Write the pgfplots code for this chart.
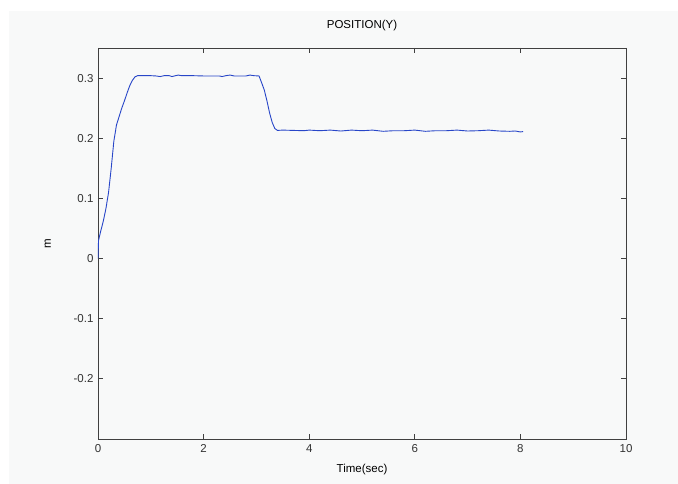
\documentclass[border=0pt]{standalone}
\usepackage{pgfplots}
\pgfplotsset{compat=1.18}
\usepackage{fontspec}
\setmainfont{Liberation Sans}
\definecolor{bgc}{RGB}{248,249,249}
\definecolor{linec}{RGB}{40,70,200}
\begin{document}
\begin{tikzpicture}
\useasboundingbox (0pt,0pt) rectangle (678pt,484pt);
\path[fill=white] (0pt,0pt) rectangle (678pt,484pt);
\path[fill=bgc] (9pt,0pt) rectangle (678pt,473pt);
\begin{axis}[
  at={(98pt,45pt)}, anchor=south west,
  scale only axis, width=528pt, height=391pt,
  xmin=0, xmax=10, ymin=-0.3, ymax=0.35,
  xtick={0,2,4,6,8,10}, xticklabels={0,2,4,6,8,10},
  ytick={-0.2,-0.1,0,0.1,0.2,0.3}, yticklabels={-0.2,-0.1,0,0.1,0.2,0.3},
  tick align=inside, major tick length=5pt,
  xtick pos=both, ytick pos=both,
  axis line style={black!75, line width=0.8pt},
  every tick/.style={black!75, line width=0.8pt},
  tick label style={font=\fontsize{11.5}{13}\selectfont, text=black!80},
  yticklabel style={xshift=-1pt},
  xticklabel style={yshift=-2pt},
  axis background/.style={fill=bgc},
  title={POSITION(Y)},
  title style={font=\fontsize{11.5}{13}\selectfont, at={(axis description cs:0.5,1.043)}, anchor=center},
  xlabel={Time(sec)},
  xlabel style={font=\fontsize{11.5}{13}\selectfont, at={(axis description cs:0.5,-0.079)}, anchor=center},
  ylabel={m},
  ylabel style={font=\fontsize{11.5}{13}\selectfont, at={(axis description cs:-0.095,0.5)}, anchor=center},
]
\addplot[linec, line width=0.9pt] coordinates {
(0,0) (0.01,0.03) (0.05,0.045) (0.1,0.062) (0.15,0.083) (0.2,0.11) (0.25,0.15) (0.3,0.195) (0.35,0.222) (0.4,0.236) (0.45,0.25) (0.5,0.262) (0.55,0.275) (0.6,0.287) (0.65,0.296) (0.7,0.302) (0.75,0.304) (0.8,0.304)
(0.9,0.304) (1.0,0.304) (1.1,0.3035) (1.18,0.3025) (1.25,0.304) (1.35,0.304) (1.4,0.3025) (1.47,0.304) (1.52,0.305) (1.58,0.304) (1.8,0.304) (2.0,0.3035) (2.3,0.3035) (2.35,0.3025) (2.42,0.304) (2.5,0.305) (2.58,0.3035) (2.8,0.3035) (2.88,0.305) (2.95,0.304) (3.05,0.3035)
(3.1,0.292) (3.15,0.28) (3.2,0.262) (3.25,0.242) (3.3,0.226) (3.35,0.216) (3.4,0.213) (3.5,0.2135) (3.7,0.213) (3.9,0.2125) (4.0,0.2135) (4.2,0.2125) (4.4,0.2135) (4.6,0.212) (4.8,0.2135) (5.0,0.2125) (5.2,0.2135) (5.4,0.2115) (5.6,0.2125) (5.8,0.2125) (6.0,0.2135) (6.2,0.2115) (6.4,0.2125) (6.6,0.2125) (6.8,0.2135) (7.0,0.212) (7.2,0.2125) (7.4,0.2135) (7.6,0.212) (7.8,0.2115) (7.9,0.212) (8.0,0.2105) (8.05,0.211)
};
\end{axis}
\end{tikzpicture}
\end{document}
